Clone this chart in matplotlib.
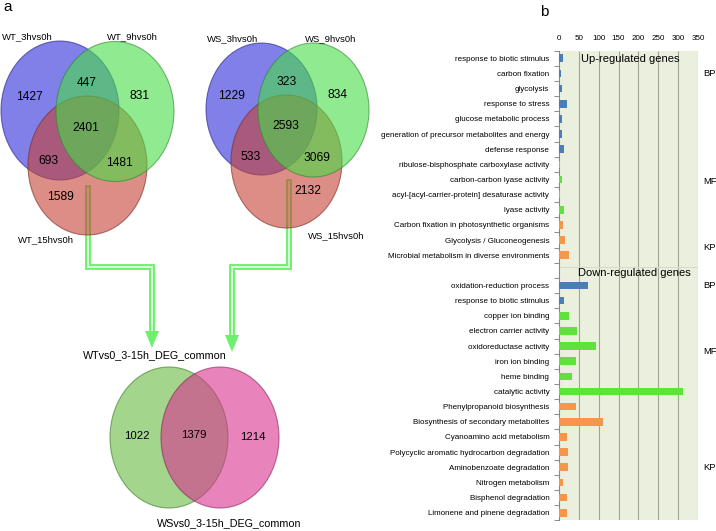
import matplotlib
matplotlib.use("Agg")
import matplotlib.pyplot as plt
from matplotlib.patches import Ellipse, Polygon
from matplotlib import font_manager

# ---- data ----
wt_sets = ["WT_3hvs0h", "WT_9hvs0h", "WT_15hvs0h"]
# regions: A only, AB, B only, ABC, AC, BC, C only
wt_counts = [1427, 447, 831, 2401, 693, 1481, 1589]
ws_sets = ["WS_3hvs0h", "WS_9hvs0h", "WS_15hvs0h"]
ws_counts = [1229, 323, 834, 2593, 533, 3069, 2132]
common_sets = ["WTvs0_3-15h_DEG_common", "WSvs0_3-15h_DEG_common"]
common_counts = [1022, 1379, 1214]

up_terms = ["response to biotic stimulus", "carbon fixation", "glycolysis",
            "response to stress", "glucose metabolic process",
            "generation of precursor metabolites and energy", "defense response",
            "ribulose-bisphosphate carboxylase activity", "carbon-carbon lyase activity",
            "acyl-[acyl-carrier-protein] desaturase activity", "lyase activity",
            "Carbon fixation in photosynthetic organisms", "Glycolysis / Gluconeogenesis",
            "Microbial metabolism in diverse environments"]
up_values = [11, 5, 8, 20, 8, 8, 12, 3, 8, 2, 13, 11, 14, 26]
up_groups = ["BP"] * 7 + ["MF"] * 4 + ["KP"] * 3

down_terms = ["oxidation-reduction process", "response to biotic stimulus",
              "copper ion binding", "electron carrier activity", "oxidoreductase activity",
              "iron ion binding", "heme binding", "catalytic activity",
              "Phenylpropanoid biosynthesis", "Biosynthesis of secondary metabolites",
              "Cyanoamino acid metabolism", "Polycyclic aromatic hydrocarbon degradation",
              "Aminobenzoate degradation", "Nitrogen metabolism", "Bisphenol degradation",
              "Limonene and pinene degradation"]
down_values = [74, 12, 26, 45, 92, 43, 33, 312, 42, 110, 19, 23, 22, 10, 19, 19]
down_groups = ["BP"] * 2 + ["MF"] * 6 + ["KP"] * 8

group_colors = {"BP": "#4a7ebb", "MF": "#5fe33a", "KP": "#f79646"}
x_ticks = [0, 50, 100, 150, 200, 250, 300, 350]

# ---- fonts ----
names = {f.name for f in font_manager.fontManager.ttflist}
if "Liberation Sans Narrow" in names:
    NARROW = ["Liberation Sans Narrow", "DejaVu Sans"]
    k = 1.0
else:
    NARROW = ["Liberation Sans", "DejaVu Sans"]
    k = 0.82
REG = ["Liberation Sans", "DejaVu Sans"]

W, H = 716, 531
fig = plt.figure(figsize=(W / 100, H / 100), dpi=100)

# ---- panel a: drawn in pixel coordinates ----
ax0 = fig.add_axes([0, 0, 1, 1])
ax0.set_xlim(0, W)
ax0.set_ylim(H, 0)
ax0.axis("off")


def ell(cx, cy, w, h, fc, ec):
    ax0.add_patch(Ellipse((cx, cy), w, h, facecolor=fc, edgecolor=ec,
                          alpha=0.6, lw=0.8, zorder=3))


def arrow(pts, tip):
    xs = [p[0] for p in pts]
    ys = [p[1] for p in pts]
    ax0.plot(xs, ys, color="#6ef06e", lw=4.2, solid_joinstyle="miter", zorder=2)
    ax0.plot(xs, ys, color="#e4fde4", lw=1.3, solid_joinstyle="miter", zorder=2)
    tx, ty = tip
    ax0.add_patch(Polygon([(tx - 7, ty - 17), (tx + 7, ty - 17), (tx, ty)],
                          closed=True, facecolor="#6ef06e", edgecolor="none", zorder=2))


blue, green, red = "#2b2bd9", "#46dc46", "#c64134"

# WT venn (draw order: blue, red, green)
ell(60, 110.5, 118, 139, blue, "#20208a")
ell(87.5, 165.5, 119, 139, red, "#7a2a22")
ell(115, 111.5, 118, 140, green, "#2a8a2a")
# WS venn
ell(261.5, 109, 111, 132, blue, "#20208a")
ell(286.5, 161.5, 111, 133, red, "#7a2a22")
ell(313.5, 110, 111, 134, green, "#2a8a2a")
# common venn
ell(169, 437.5, 118, 141, "#66b93f", "#3d7a25")
ell(220, 437.5, 118, 141, "#d9328f", "#8a2058")

arrow([(88, 188), (88, 267), (152, 267), (152, 333)], (152, 348))
arrow([(289, 182), (289, 267), (232, 267), (232, 337)], (232, 352))

num_fs = 10.5 * k
wt_pos = [(29, 97), (87, 83), (140, 96), (86, 128), (48, 161), (119, 163), (60, 197)]
for (x, y), v in zip(wt_pos, wt_counts):
    ax0.text(x, y, str(v), ha="center", va="center", fontsize=num_fs, family=NARROW, zorder=5)
ws_pos = [(232, 96), (287, 82), (337, 95), (286, 126), (251, 157), (317, 158), (308, 191)]
for (x, y), v in zip(ws_pos, ws_counts):
    ax0.text(x, y, str(v), ha="center", va="center", fontsize=num_fs, family=NARROW, zorder=5)
cm_pos = [(137, 436), (194, 435), (253, 437)]
for (x, y), v in zip(cm_pos, common_counts):
    ax0.text(x, y, str(v), ha="center", va="center", fontsize=10 * k, family=NARROW, zorder=5)

lab_fs = 8.3 * k
for (x, y), s in zip([(2, 37), (107, 37), (18, 240)], wt_sets):
    ax0.text(x, y, s, ha="left", va="center", fontsize=lab_fs, family=NARROW)
for (x, y), s in zip([(207, 39), (305, 39), (308, 236)], ws_sets):
    ax0.text(x, y, s, ha="left", va="center", fontsize=lab_fs, family=NARROW)
for (x, y), s in zip([(83, 355), (157, 523)], common_sets):
    ax0.text(x, y, s, ha="left", va="center", fontsize=9.5 * k, family=NARROW)

ax0.text(3, 7, "a", ha="left", va="center", fontsize=11, family=REG)
ax0.text(540, 12, "b", ha="left", va="center", fontsize=11, family=REG)

# group labels at right of panel b
for y, s in [(73, "BP"), (182, "MF"), (247, "KP"), (285, "BP"), (352, "MF"), (467, "KP")]:
    ax0.text(703, y, s, ha="left", va="center", fontsize=8.2 * k, family=NARROW)

# ---- panel b: bar chart ----
terms = up_terms + [""] + down_terms
values = up_values + [0] + down_values
groups = up_groups + ["BP"] + down_groups
colors = [group_colors[g] for g in groups]
pos = list(range(len(terms)))

top, bot = 50.7, 520.3
ax = fig.add_axes([559 / W, 1 - bot / H, (698 - 559) / W, (bot - top) / H])
ax.set_facecolor("#ebf0de")
ax.barh(pos, values, height=0.5, color=colors, zorder=3)
ax.set_xlim(0, 350)
ax.set_ylim(len(terms) - 0.5, -0.5)
ax.vlines(x_ticks[1:], -0.5, len(terms) - 0.5, color="#a3a395", lw=0.8, zorder=1)
ax.xaxis.tick_top()
ax.set_xticks(x_ticks)
ax.set_xticklabels([str(t) for t in x_ticks], fontsize=7 * k, family=NARROW)
ax.tick_params(axis="x", length=0, pad=6)
ax.set_yticks(pos)
ax.set_yticklabels(terms, fontsize=7.0 * k, family=NARROW)
ax.tick_params(axis="y", length=0, pad=7)
ax.set_yticks([p + 0.5 for p in range(-1, len(terms))], minor=True)
ax.tick_params(axis="y", which="minor", length=3.5, color="#777777", width=0.6)
for s in ["top", "right", "bottom"]:
    ax.spines[s].set_visible(False)
ax.spines["left"].set_color("#888888")
ax.spines["left"].set_linewidth(0.8)
ax.axhline(13.75, color="#d8dccb", lw=0.8, zorder=2)
ax.text(55, 0.05, "Up-regulated genes", va="center", ha="left", fontsize=8, family=REG, zorder=4)
ax.text(48, 14.2, "Down-regulated genes", va="center", ha="left", fontsize=8, family=REG, zorder=4)

fig.savefig("out.png", dpi=100)
